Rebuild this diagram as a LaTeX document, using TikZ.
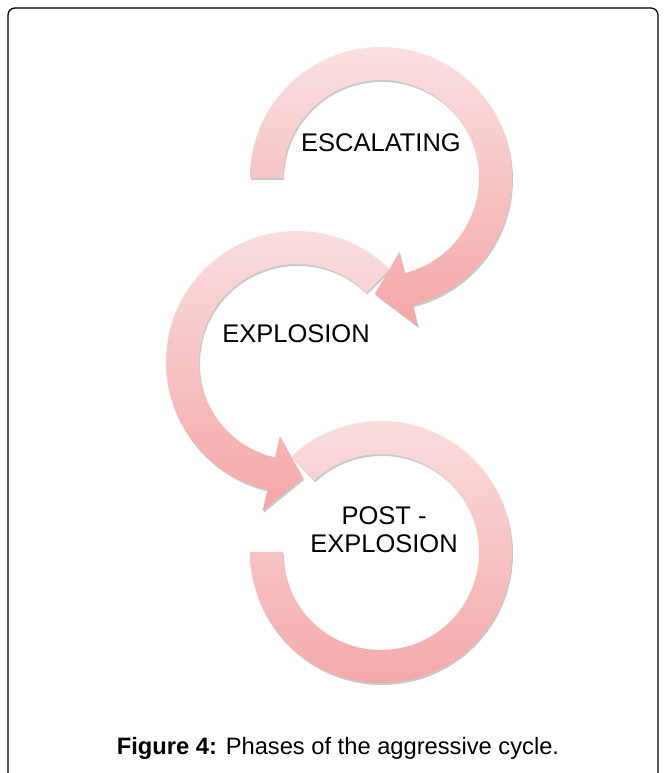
\documentclass[tikz,border=0pt]{standalone}
\usepackage{fontspec}
\setmainfont{Liberation Sans}

\definecolor{ringlight}{RGB}{250,224,224}
\definecolor{ringdark}{RGB}{244,166,166}
\definecolor{ringshade}{RGB}{120,120,120}

% piece of ring between two angles, and an arrow head (back angle, tip angle)
\newcommand{\ringpiece}[2]{(#1:131) arc[start angle=#1, end angle=#2, radius=131] -- (#2:98) arc[start angle=#2, end angle=#1, radius=98] -- cycle}
\newcommand{\headpiece}[2]{(#1:76) -- (#1:153) -- (#2:116) -- cycle}

\begin{document}
\begin{tikzpicture}[x=1pt,y=1pt,
  ringshadow/.style={fill=ringshade,opacity=.4,shift={(1,-2)}},
  ring/.style={top color=ringlight,bottom color=ringdark},
  phase/.style={font=\fontsize{25.5}{28}\selectfont,align=center}]
\useasboundingbox (0,0) rectangle (664,773);
\draw[line width=1.3pt,rounded corners=7] (8,0) -- (8,765) -- (658,765) -- (658,0);

% post-explosion ring
\begin{scope}[shift={(381,221)}]
\fill[ringshadow] \ringpiece{133}{-180};
\shade[ring] \ringpiece{133}{-180};
\end{scope}
% explosion ring
\begin{scope}[shift={(297,411)}]
\fill[ringshadow] \ringpiece{45}{257} \headpiece{257}{273};
\shade[ring] \ringpiece{45}{258} \headpiece{257}{273};
\end{scope}
% escalating ring
\begin{scope}[shift={(381,595)}]
\fill[ringshadow] \ringpiece{180}{-76} \headpiece{-76}{-93};
\shade[ring] \ringpiece{180}{-77} \headpiece{-76}{-93};
\end{scope}

\node[phase,fill=white,inner sep=2pt] (escal) at (381,630) {ESCALATING};
\node[phase] (explo) at (296,439) {EXPLOSION};
\node[phase] (post) at (384,243) {POST -\\EXPLOSION};
\node[font=\fontsize{23.7}{28}\selectfont] (caption) at (338,25)
  {\textbf{Figure 4:} Phases of the aggressive cycle.};
\end{tikzpicture}
\end{document}
